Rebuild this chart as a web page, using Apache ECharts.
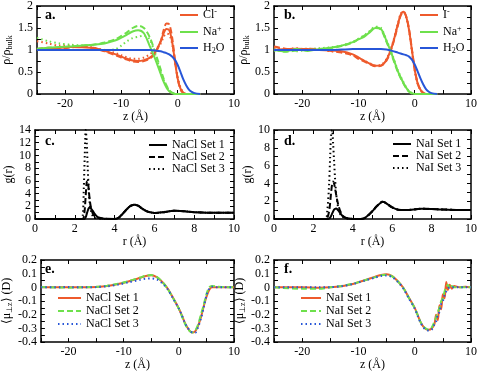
<!DOCTYPE html>
<html>
<head>
<meta charset="utf-8">
<script src="https://cdn.jsdelivr.net/npm/echarts@6/dist/echarts.min.js"></script>
<style>
html, body { margin: 0; padding: 0; background: #fff; }
#main { width: 480px; height: 372px; }
</style>
</head>
<body>
<div id="main"></div>
<script>
// ---- a. NaCl density profiles
var zA = [-25, -23, -21, -19, -17, -15, -13, -11, -10, -9, -8, -7, -6, -5, -4, -3, -2.5, -2, -1.5, -1, -0.5, 0, 0.5, 1, 1.5, 2, 2.5, 3, 4];
var clA1 = [1.02, 1.04, 1.05, 1.07, 1.06, 1.05, 0.98, 0.9, 0.85, 0.8, 0.76, 0.75, 0.77, 0.82, 0.95, 1.2, 1.38, 1.48, 1.45, 1.2, 0.75, 0.35, 0.12, 0.03, 0, 0, 0, 0, 0];
var clA2 = [1.0, 1.05, 1.03, 1.06, 1.08, 1.04, 0.97, 0.88, 0.83, 0.78, 0.74, 0.73, 0.75, 0.8, 0.92, 1.2, 1.45, 1.6, 1.58, 1.3, 0.8, 0.35, 0.1, 0.02, 0, 0, 0, 0, 0];
var clA3 = [1.2, 1.15, 1.1, 1.1, 1.08, 1.05, 1.0, 0.93, 0.88, 0.83, 0.8, 0.8, 0.83, 0.9, 1.0, 1.15, 1.3, 1.37, 1.35, 1.15, 0.75, 0.38, 0.15, 0.04, 0, 0, 0, 0, 0];
var naA1 = [1.03, 1.05, 1.07, 1.08, 1.1, 1.12, 1.15, 1.22, 1.28, 1.35, 1.42, 1.45, 1.38, 1.1, 0.8, 0.45, 0.28, 0.15, 0.06, 0.02, 0, 0, 0, 0, 0, 0, 0, 0, 0];
var naA2 = [1.02, 1.05, 1.06, 1.08, 1.1, 1.12, 1.17, 1.25, 1.32, 1.4, 1.5, 1.55, 1.5, 1.3, 0.95, 0.55, 0.35, 0.2, 0.09, 0.03, 0.01, 0, 0, 0, 0, 0, 0, 0, 0];
var naA3 = [1.28, 1.2, 1.15, 1.12, 1.1, 1.05, 1.0, 1.02, 1.1, 1.2, 1.27, 1.3, 1.33, 1.25, 0.9, 0.5, 0.32, 0.18, 0.08, 0.03, 0, 0, 0, 0, 0, 0, 0, 0, 0];
var h2oA = [1, 1, 1, 1, 1, 1, 1, 1, 1, 1, 1, 1, 1, 1, 0.99, 0.97, 0.95, 0.93, 0.9, 0.85, 0.78, 0.66, 0.5, 0.33, 0.2, 0.1, 0.05, 0.02, 0];

// ---- b. NaI density profiles
var zB = zA;
var iB1 = [1.0, 1.02, 1.03, 1.02, 1.0, 0.99, 0.97, 0.9, 0.83, 0.76, 0.69, 0.64, 0.65, 0.78, 1.1, 1.58, 1.8, 1.87, 1.75, 1.45, 1.0, 0.55, 0.25, 0.1, 0.03, 0, 0, 0, 0];
var iB2 = [1.08, 1.03, 1.0, 1.03, 1.02, 0.98, 0.94, 0.88, 0.8, 0.74, 0.68, 0.63, 0.64, 0.76, 1.08, 1.55, 1.78, 1.86, 1.76, 1.47, 1.02, 0.57, 0.26, 0.1, 0.03, 0, 0, 0, 0];
var iB3 = [1.05, 1.02, 1.04, 1.0, 1.03, 0.97, 0.95, 0.89, 0.82, 0.76, 0.7, 0.65, 0.66, 0.8, 1.12, 1.6, 1.82, 1.88, 1.74, 1.43, 0.98, 0.53, 0.24, 0.09, 0.02, 0, 0, 0, 0];
var naB1 = [1.0, 0.97, 1.02, 0.98, 1.02, 1.05, 1.1, 1.18, 1.24, 1.3, 1.4, 1.5, 1.48, 1.2, 0.88, 0.52, 0.38, 0.25, 0.14, 0.06, 0.02, 0, 0, 0, 0, 0, 0, 0, 0];
var naB2 = [1.02, 0.96, 0.99, 1.03, 1.0, 1.04, 1.09, 1.17, 1.25, 1.32, 1.42, 1.52, 1.46, 1.18, 0.85, 0.5, 0.36, 0.24, 0.13, 0.05, 0.01, 0, 0, 0, 0, 0, 0, 0, 0];
var naB3 = [0.98, 1.0, 0.97, 1.01, 1.04, 1.06, 1.1, 1.19, 1.26, 1.33, 1.43, 1.53, 1.5, 1.22, 0.9, 0.54, 0.4, 0.27, 0.15, 0.06, 0.02, 0, 0, 0, 0, 0, 0, 0, 0];
var h2oB = [1, 1, 1, 1, 1, 1, 1.01, 1.02, 1.02, 1.02, 1.02, 1.02, 1.02, 1.01, 0.98, 0.94, 0.92, 0.9, 0.88, 0.85, 0.78, 0.67, 0.52, 0.36, 0.22, 0.11, 0.05, 0.02, 0];

// ---- c. NaCl g(r)
var rC = [0, 2.3, 2.4, 2.45, 2.5, 2.55, 2.6, 2.65, 2.7, 2.75, 2.8, 2.9, 3.0, 3.1, 3.2, 3.4, 3.6, 4.0, 4.2, 4.4, 4.6, 4.8, 5.0, 5.2, 5.4, 5.6, 5.8, 6.0, 6.4, 7.0, 7.5, 8.0, 9.0, 10];
var gC1 = [0, 0, 0, 0, 0.05, 0.3, 0.8, 1.3, 1.7, 1.8, 1.7, 1.3, 0.8, 0.45, 0.25, 0.08, 0.02, 0, 0.2, 0.8, 1.5, 2.05, 2.25, 2.05, 1.6, 1.25, 1.05, 0.95, 1.05, 1.3, 1.22, 1.08, 0.98, 1.0];
var gC2 = [0, 0, 0, 0.3, 1.5, 3.8, 5.8, 6.0, 4.6, 3.0, 2.0, 0.9, 0.45, 0.25, 0.15, 0.06, 0.02, 0, 0.2, 0.8, 1.5, 2.05, 2.25, 2.05, 1.6, 1.25, 1.05, 0.95, 1.05, 1.3, 1.22, 1.08, 0.98, 1.0];
var gC3 = [0, 0, 0.5, 4.5, 10, 14, 12, 8, 4.5, 2.5, 1.4, 0.5, 0.2, 0.1, 0.05, 0.02, 0, 0, 0.2, 0.8, 1.5, 2.05, 2.25, 2.05, 1.6, 1.25, 1.05, 0.95, 1.05, 1.3, 1.22, 1.08, 0.98, 1.0];

// ---- d. NaI g(r)
var rD = [0, 2.6, 2.7, 2.8, 2.85, 2.9, 2.95, 3.0, 3.05, 3.1, 3.15, 3.2, 3.3, 3.4, 3.5, 3.7, 4.0, 4.4, 4.6, 4.8, 5.0, 5.2, 5.4, 5.5, 5.6, 5.8, 6.0, 6.3, 6.7, 7.5, 8.5, 9.5, 10];
var gD1 = [0, 0, 0, 0.05, 0.15, 0.35, 0.6, 0.85, 1.05, 1.15, 1.18, 1.12, 0.85, 0.55, 0.3, 0.08, 0.01, 0, 0.1, 0.45, 0.9, 1.4, 1.8, 1.95, 1.9, 1.6, 1.3, 1.05, 1.0, 1.15, 1.08, 1.0, 1.0];
var gD2 = [0, 0, 0.1, 0.9, 1.8, 3.0, 3.9, 4.2, 4.0, 3.4, 2.8, 2.2, 1.3, 0.7, 0.35, 0.1, 0.01, 0, 0.1, 0.45, 0.9, 1.4, 1.8, 1.95, 1.9, 1.6, 1.3, 1.05, 1.0, 1.15, 1.08, 1.0, 1.0];
var gD3 = [0, 0, 0.8, 4, 7, 9.5, 10, 8.5, 6.5, 4.5, 3.0, 2.0, 0.9, 0.4, 0.2, 0.05, 0, 0, 0.1, 0.45, 0.9, 1.4, 1.8, 1.95, 1.9, 1.6, 1.3, 1.05, 1.0, 1.15, 1.08, 1.0, 1.0];

// ---- e. NaCl dipole
var zE = [-25, -20, -17, -15, -13, -11, -9, -7, -6, -5, -4, -3, -2, -1, 0, 0.5, 1, 1.5, 2, 2.5, 3, 3.5, 4, 4.5, 5, 5.5, 6, 7, 8, 10];
var muE1 = [0, 0, 0, 0.003, 0.01, 0.025, 0.045, 0.07, 0.083, 0.088, 0.075, 0.04, -0.01, -0.08, -0.155, -0.2, -0.25, -0.29, -0.32, -0.33, -0.32, -0.28, -0.22, -0.14, -0.07, -0.02, 0, 0, 0, 0];
var muE2 = [0.002, -0.002, 0.001, 0.004, 0.012, 0.026, 0.047, 0.072, 0.085, 0.09, 0.077, 0.04, -0.012, -0.082, -0.155, -0.205, -0.255, -0.295, -0.32, -0.33, -0.315, -0.27, -0.2, -0.13, -0.05, 0.0, 0.01, 0.005, 0.003, 0];
var muE3 = [0, 0.002, 0, 0.002, 0.008, 0.02, 0.038, 0.055, 0.063, 0.065, 0.058, 0.03, -0.015, -0.085, -0.155, -0.2, -0.25, -0.29, -0.315, -0.33, -0.33, -0.29, -0.23, -0.15, -0.06, -0.01, 0.005, 0, 0, 0];

// ---- f. NaI dipole
var zF = [-25, -20, -17, -15, -13, -11, -9, -7, -6, -5, -4, -3, -2, -1, 0, 0.5, 1, 1.5, 2, 2.5, 3, 3.5, 3.8, 4.1, 4.4, 4.7, 5.0, 5.3, 5.6, 5.9, 6.2, 6.6, 7, 8, 9, 10];
var muF1 = [0, 0, -0.003, 0, 0.008, 0.025, 0.05, 0.078, 0.09, 0.095, 0.082, 0.045, -0.005, -0.078, -0.15, -0.2, -0.25, -0.285, -0.305, -0.31, -0.3, -0.27, -0.2, -0.24, -0.13, -0.16, -0.05, -0.08, 0.04, -0.02, 0.02, -0.01, 0.01, 0, 0.005, 0];
var muF2 = [0, -0.01, -0.01, 0, 0.01, 0.026, 0.05, 0.075, 0.088, 0.092, 0.08, 0.044, -0.006, -0.08, -0.152, -0.2, -0.25, -0.283, -0.302, -0.31, -0.295, -0.25, -0.22, -0.18, -0.15, -0.1, -0.08, -0.03, 0.0, 0.02, -0.01, 0.01, 0, 0, 0, 0];
var muF3 = [0, 0, 0, 0.002, 0.008, 0.024, 0.048, 0.072, 0.083, 0.086, 0.075, 0.04, -0.01, -0.083, -0.155, -0.205, -0.255, -0.29, -0.31, -0.315, -0.31, -0.27, -0.25, -0.2, -0.18, -0.12, -0.1, -0.06, -0.03, -0.01, 0, 0, 0, 0, 0, 0];

var FONT = 'Liberation Serif';
var RED = '#ee5a2c', GREEN = '#6ee04c', BLUE = '#2756d8';

function zip(xs, ys) {
	return xs.map(function (x, i) { return [x, ys[i]]; });
}

// 每个面板一个 grid
var grids = [
	{ left: 35, top: 4, width: 199, height: 90 },
	{ left: 274, top: 4, width: 199, height: 90 },
	{ left: 35, top: 130, width: 199, height: 89 },
	{ left: 274, top: 130, width: 199, height: 89 },
	{ left: 35, top: 260, width: 199, height: 84 },
	{ left: 274, top: 260, width: 199, height: 84 }
];

var xAxes = [], yAxes = [];

function hideOdd5(v) {
	return (Math.round(v) % 10 === 0) ? String(v) : '';
}

// 主轴 + 镜像轴（上、右）
function addAxes(gi, xc, yc) {
	var tick = { show: true, inside: true, length: 4, lineStyle: { color: '#000', width: 1 } };
	var line = { show: true, onZero: false, lineStyle: { color: '#000', width: 1.5 } };
	var lab = { fontFamily: FONT, fontSize: 12, color: '#000', margin: 4 };
	var minor = function (n) {
		return n ? { show: true, splitNumber: n, length: 4, lineStyle: { color: '#000', width: 1 } } : { show: false };
	};
	xAxes.push({
		type: 'value', gridIndex: gi, min: xc.min, max: xc.max, interval: xc.interval,
		axisLine: line, axisTick: tick, minorTick: minor(xc.minor), splitLine: { show: false },
		axisLabel: Object.assign({}, lab, { formatter: xc.fmt, showMinLabel: true, showMaxLabel: true }),
		name: xc.name, nameLocation: 'middle', nameGap: xc.gap,
		nameTextStyle: { fontFamily: FONT, fontSize: 12, color: '#000' }
	});
	xAxes.push({
		type: 'value', gridIndex: gi, position: 'top', min: xc.min, max: xc.max, interval: xc.interval,
		axisLine: line, axisTick: tick, minorTick: minor(xc.minor), splitLine: { show: false },
		axisLabel: { show: false }
	});
	yAxes.push({
		type: 'value', gridIndex: gi, min: yc.min, max: yc.max, interval: yc.interval,
		axisLine: line, axisTick: tick, minorTick: minor(yc.minor), splitLine: { show: false },
		axisLabel: Object.assign({}, lab, { formatter: yc.fmt, showMinLabel: true, showMaxLabel: true }),
		name: yc.name, nameLocation: 'middle', nameGap: yc.gap,
		nameTextStyle: { fontFamily: FONT, fontSize: 12, color: '#000', rich: yc.rich }
	});
	yAxes.push({
		type: 'value', gridIndex: gi, position: 'right', min: yc.min, max: yc.max, interval: yc.interval,
		axisLine: line, axisTick: tick, minorTick: minor(yc.minor), splitLine: { show: false },
		axisLabel: { show: false }
	});
}

var rhoRich = {
	a: { fontFamily: FONT, fontSize: 12, color: '#000' },
	s: { fontFamily: FONT, fontSize: 8, color: '#000', verticalAlign: 'bottom', padding: [6, 0, 0, 0] }
};
var muRich = {
	a: { fontFamily: FONT, fontSize: 12, color: '#000' },
	s: { fontFamily: FONT, fontSize: 8, color: '#000', verticalAlign: 'bottom', padding: [6, 0, 0, 0] }
};

var zAxisTop = { min: -25, max: 10, interval: 5, fmt: hideOdd5, name: 'z (Å)', gap: 17 };
var rhoAxis = { min: 0, max: 2, interval: 0.5, minor: 2, name: '{a|ρ/ρ}{s|bulk}', gap: 14, rich: rhoRich };
var muAxis = {
	min: -0.4, max: 0.2, interval: 0.1, minor: 2, name: '{a|⟨μ}{s|⊥z}{a|⟩ (D)}', gap: 24, rich: muRich,
	fmt: function (v) { return v === 0 ? '0' : v.toFixed(1); }
};

addAxes(0, zAxisTop, rhoAxis);
addAxes(1, zAxisTop, rhoAxis);
addAxes(2, { min: 0, max: 10, interval: 2, minor: 2, name: 'r (Å)', gap: 17 }, { min: 0, max: 14, interval: 2, minor: 2, name: 'g(r)', gap: 17 });
addAxes(3, { min: 0, max: 10, interval: 2, minor: 2, name: 'r (Å)', gap: 17 }, { min: 0, max: 10, interval: 2, minor: 2, name: 'g(r)', gap: 20 });
addAxes(4, { min: -25, max: 10, interval: 5, fmt: hideOdd5, name: 'z (Å)', gap: 15 }, muAxis);
addAxes(5, { min: -25, max: 10, interval: 5, fmt: hideOdd5, name: 'z (Å)', gap: 15 }, muAxis);

var DASH = [6, 3], DOT = [1.5, 3];

function line(name, gi, xs, ys, color, type, width, z) {
	return {
		name: name, type: 'line', xAxisIndex: gi * 2, yAxisIndex: gi * 2,
		data: zip(xs, ys), symbol: 'none', smooth: 0.3, z: z || 2,
		lineStyle: { color: color, width: width || 2, type: type || 'solid' },
		itemStyle: { color: color }
	};
}

var series = [
	line('clA3', 0, zA, clA3, RED, DOT), line('naA3', 0, zA, naA3, GREEN, DOT),
	line('clA2', 0, zA, clA2, RED, DASH), line('naA2', 0, zA, naA2, GREEN, DASH),
	line('clA1', 0, zA, clA1, RED), line('naA1', 0, zA, naA1, GREEN), line('h2oA', 0, zA, h2oA, BLUE, 'solid', 2, 3),

	line('iB3', 1, zB, iB3, RED, DOT), line('naB3', 1, zB, naB3, GREEN, DOT),
	line('iB2', 1, zB, iB2, RED, DASH), line('naB2', 1, zB, naB2, GREEN, DASH),
	line('iB1', 1, zB, iB1, RED), line('naB1', 1, zB, naB1, GREEN), line('h2oB', 1, zB, h2oB, BLUE, 'solid', 2, 3),

	line('NaCl Set 1', 2, rC, gC1, '#000'), line('NaCl Set 2', 2, rC, gC2, '#000', DASH), line('NaCl Set 3', 2, rC, gC3, '#000', DOT),
	line('NaI Set 1', 3, rD, gD1, '#000'), line('NaI Set 2', 3, rD, gD2, '#000', DASH), line('NaI Set 3', 3, rD, gD3, '#000', DOT),

	line('eSet1', 4, zE, muE1, RED), line('eSet2', 4, zE, muE2, GREEN, DASH), line('eSet3', 4, zE, muE3, BLUE, DOT),
	line('fSet1', 5, zF, muF1, RED), line('fSet2', 5, zF, muF2, GREEN, DASH), line('fSet3', 5, zF, muF3, BLUE, DOT)
];

var legendText = {
	clA1: '{t|Cl}{p|-}', naA1: '{t|Na}{p|+}', h2oA: '{t|H}{b|2}{t|O}',
	iB1: '{t|I}{p|-}', naB1: '{t|Na}{p|+}', h2oB: '{t|H}{b|2}{t|O}',
	eSet1: '{t|NaCl Set 1}', eSet2: '{t|NaCl Set 2}', eSet3: '{t|NaCl Set 3}',
	fSet1: '{t|NaI Set 1}', fSet2: '{t|NaI Set 2}', fSet3: '{t|NaI Set 3}'
};

function legend(names, left, top, gap, w) {
	return {
		data: names, left: left, top: top, orient: 'vertical', selectedMode: false,
		itemWidth: w || 20, itemHeight: 10, itemGap: gap, padding: 0,
		itemStyle: { opacity: 0 },
		lineStyle: { width: 2 },
		formatter: function (n) { return legendText[n] || ('{t|' + n + '}'); },
		textStyle: {
			fontFamily: FONT, fontSize: 12, color: '#000', padding: [0, 0, 0, 0],
			rich: {
				t: { fontFamily: FONT, fontSize: 12, color: '#000' },
				p: { fontFamily: FONT, fontSize: 8, color: '#000', verticalAlign: 'top', padding: [0, 0, 6, 0] },
				b: { fontFamily: FONT, fontSize: 8, color: '#000', verticalAlign: 'bottom', padding: [5, 0, 0, 0] }
			}
		}
	};
}

var option = {
	animation: false,
	backgroundColor: '#fff',
	grid: grids,
	xAxis: xAxes,
	yAxis: yAxes,
	legend: [
		legend(['clA1', 'naA1', 'h2oA'], 179, 8, 4, 18),
		legend(['iB1', 'naB1', 'h2oB'], 419, 8, 4, 18),
		legend(['NaCl Set 1', 'NaCl Set 2', 'NaCl Set 3'], 148, 139, 0, 18),
		legend(['NaI Set 1', 'NaI Set 2', 'NaI Set 3'], 392, 138, 0, 18),
		legend(['eSet1', 'eSet2', 'eSet3'], 57, 292, 1, 23),
		legend(['fSet1', 'fSet2', 'fSet3'], 300, 292, 1, 20)
	],
	graphic: [
		['a.', 45, 8], ['b.', 284, 8], ['c.', 45, 134], ['d.', 284, 134], ['e.', 45, 262], ['f.', 284, 262]
	].map(function (p) {
		return { type: 'text', left: p[1], top: p[2], z: 10, style: { text: p[0], font: 'bold 14px "Liberation Serif"', fill: '#000' } };
	}),
	series: series
};

var chart = echarts.init(document.getElementById('main'));
chart.setOption(option);
</script>
</body>
</html>
